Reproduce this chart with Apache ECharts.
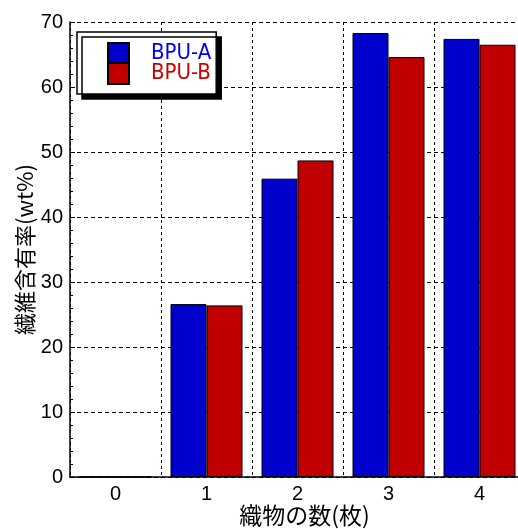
<!DOCTYPE html>
<html><head><meta charset="utf-8">
<script src="https://cdn.jsdelivr.net/npm/echarts@6/dist/echarts.min.js"></script>
<style>html,body{margin:0;padding:0;background:#fff}#c{width:518px;height:529px}</style>
</head><body><div id="c"></div>
<script>
const categories = ['0', '1', '2', '3', '4'];
const bpuA = [0, 26.6, 45.9, 68.3, 67.4];
const bpuB = [0, 26.4, 48.7, 64.6, 66.5];
const seriesNames = ['BPU-A', 'BPU-B'];
const xName = '織物の数(枚)';
const yName = '繊維含有率(wt%)';

const font = "'Liberation Sans', Arial, sans-serif";
const cjk = "'Noto Sans CJK JP', 'Liberation Sans', sans-serif";
const chart = echarts.init(document.getElementById('c'), null, {renderer: 'canvas'});
chart.setOption({
  animation: false,
  backgroundColor: '#fff',
  grid: {left: 70, top: 22, bottom: 52, right: -7, containLabel: false, outerBoundsMode: 'none'},
  legend: {
    orient: 'vertical', left: 77, top: 32,
    data: [
      {name: seriesNames[0], textStyle: {color: '#0000ee'}},
      {name: seriesNames[1], textStyle: {color: '#cc0000'}}
    ],
    itemWidth: 21, itemHeight: 21, itemGap: -3,
    padding: [10, 5, 9, 30],
    backgroundColor: '#fff', borderColor: '#000', borderWidth: 1.5,
    shadowColor: '#000', shadowBlur: 0, shadowOffsetX: 5, shadowOffsetY: 5,
    textStyle: {fontFamily: "'Liberation Sans Narrow', 'DejaVu Sans Condensed', sans-serif", fontSize: 22, lineHeight: 21, padding: [0, 0, 0, 17]},
    icon: 'rect'
  },
  xAxis: {
    type: 'category', data: categories,
    name: xName, nameLocation: 'middle', nameGap: 27, nameMoveOverlap: false,
    nameTextStyle: {fontFamily: cjk, fontSize: 23, color: '#000', padding: [0, 0, 0, 14]},
    axisLine: {lineStyle: {color: '#000', width: 1.5}},
    axisTick: {show: false},
    axisLabel: {fontFamily: font, fontSize: 20, color: '#000', margin: 7},
    splitLine: {show: true, lineStyle: {color: '#000', type: [3, 3], width: 1}}
  },
  yAxis: {
    type: 'value', min: 0, max: 70, interval: 10,
    name: yName, nameLocation: 'middle', nameGap: 34, nameMoveOverlap: false,
    nameTextStyle: {fontFamily: cjk, fontSize: 22, color: '#000'},
    axisLine: {show: true, lineStyle: {color: '#000', width: 1.5}},
    axisTick: {show: true, inside: true, length: 5, lineStyle: {color: '#000'}},
    minorTick: {show: true, splitNumber: 5, length: 3, lineStyle: {color: '#000'}},
    axisLabel: {fontFamily: font, fontSize: 20, color: '#000', margin: 7},
    splitLine: {show: true, lineStyle: {color: '#000', type: [4, 3], width: 1}}
  },
  series: [
    {name: seriesNames[0], type: 'bar', data: bpuA, barWidth: 36, barGap: '0%',
     itemStyle: {color: '#0000cc', borderColor: '#000', borderWidth: 1}},
    {name: seriesNames[1], type: 'bar', data: bpuB, barWidth: 36, barGap: '0%',
     itemStyle: {color: '#c00000', borderColor: '#000', borderWidth: 1}}
  ]
});
</script></body></html>
